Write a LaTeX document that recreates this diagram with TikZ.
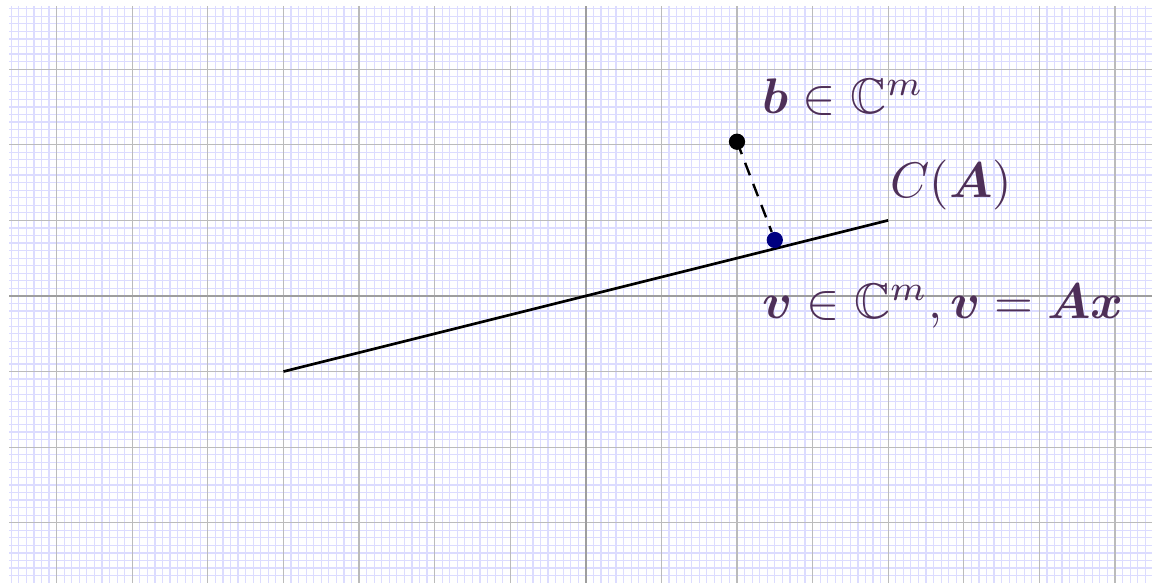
\documentclass[tikz,border=0pt]{standalone}
\usepackage{amsmath,amssymb,bm}
\definecolor{labcol}{HTML}{4E2F58}
\definecolor{minorgrid}{HTML}{DCDCFF}
\definecolor{majorgrid}{HTML}{BBBBBB}
\definecolor{vdot}{HTML}{000080}
\tikzset{
  lab/.style={anchor=base west, inner sep=0pt, text=labcol, scale=1.88},
  dotnode/.style={circle, inner sep=0pt, minimum size=0.215cm},
}
\begin{document}
\begin{tikzpicture}
\useasboundingbox (-7.75,-3.785) rectangle (7.49,3.915);
\fill[white] (-7.75,-3.785) rectangle (7.49,3.915);
\draw[minorgrid, line width=0.45pt, step=0.1] (-7.63,-3.8) grid (7.5,3.83);
\draw[majorgrid, line width=0.45pt, step=1] (-7.63,-3.8) grid (7.5,3.83);
\draw[black!38, line width=0.55pt] (-7.63,0) -- (7.5,0);
\draw[black!38, line width=0.55pt] (0,-3.8) -- (0,3.83);
\coordinate (p1) at (-4,-1);
\coordinate (p2) at (4,1);
\draw[black, line width=1pt] (p1) -- (p2);
\node[dotnode, fill=black] (b) at (2,2.04) {};
\node[dotnode, fill=vdot] (v) at (2.5,0.74) {};
\draw[black, line width=0.9pt, dash pattern=on 5pt off 3.5pt] (b.center) -- (v);
\node[lab] (bl) at (2.33,2.41) {$\bm{b}\in\mathbb{C}^m$};
\node[lab] (cl) at (4.02,1.30) {$C(\bm{A})$};
\node[lab] (vl) at (2.33,-0.30) {$\bm{v}\in\mathbb{C}^m,\bm{v}=\bm{A}\bm{x}$};
\end{tikzpicture}
\end{document}
